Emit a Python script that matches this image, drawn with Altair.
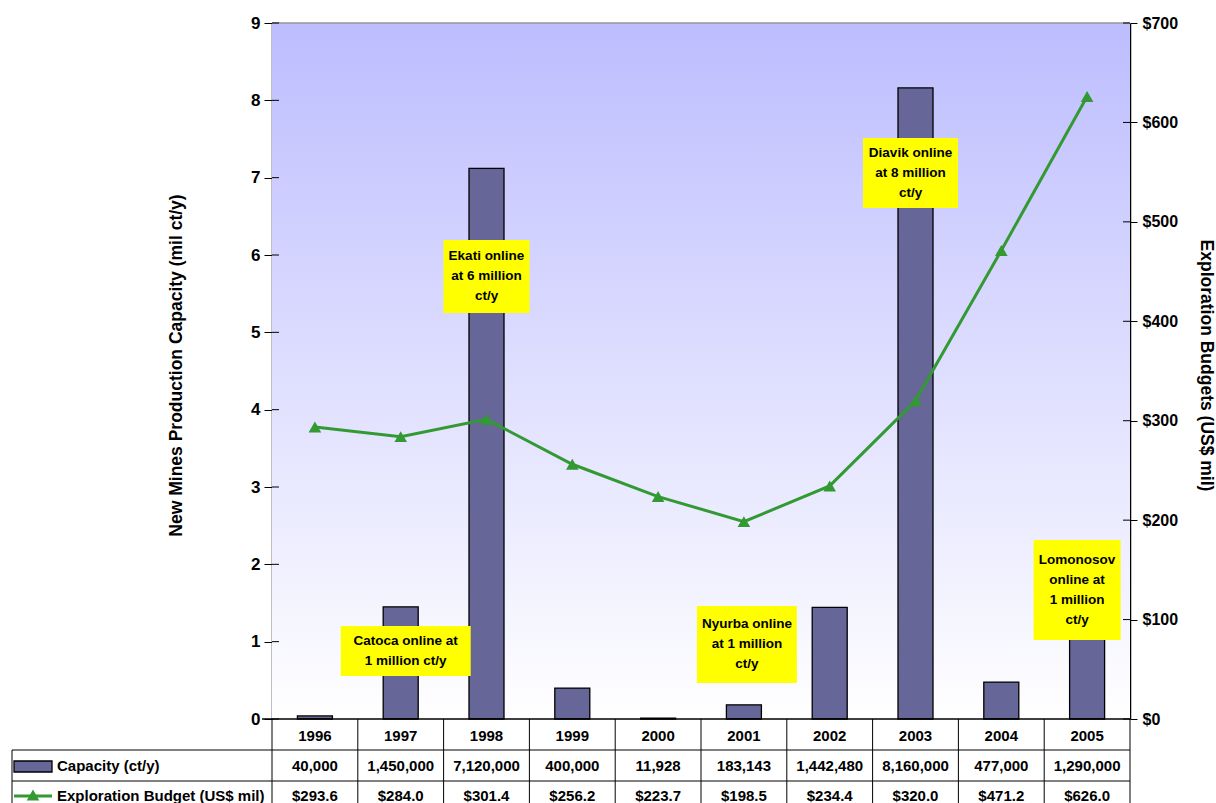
import altair as alt
import pandas as pd

# ---------------- data ----------------
years = ["1996", "1997", "1998", "1999", "2000", "2001", "2002", "2003", "2004", "2005"]
capacity_ct = [40000, 1450000, 7120000, 400000, 11928, 183143, 1442480, 8160000, 477000, 1290000]
budget_musd = [293.6, 284.0, 301.4, 256.2, 223.7, 198.5, 234.4, 320.0, 471.2, 626.0]

left_ticks = [0, 1, 2, 3, 4, 5, 6, 7, 8, 9]
right_ticks = [0, 100, 200, 300, 400, 500, 600, 700]

ann_years = ["1997", "1998", "2003", "2001", "2005"]
ann_text = [
    ["Catoca online at", "1 million ct/y"],
    ["Ekati online", "at 6 million", "ct/y"],
    ["Diavik online", "at 8 million", "ct/y"],
    ["Nyurba online", "at 1 million", "ct/y"],
    ["Lomonosov", "online at", "1 million", "ct/y"],
]
ann_lo = [0.556, 5.25, 6.608, 0.466, 1.022]
ann_hi = [1.203, 6.194, 7.513, 1.461, 2.315]

# ---------------- styles ----------------
W, H = 858, 696
FONT = "Liberation Sans"
BAR = "#666699"
GREEN = "#339933"
ann_width = [130, 86, 95, 100, 87]
ann_dx = [5, 0, -5, 3, -10]
LH = 20

df = pd.DataFrame({
    "year": years,
    "cap_ct": capacity_ct,
    "cap_mil": [v / 1e6 for v in capacity_ct],
    "budget": budget_musd,
})

xenc = alt.X("year:N", sort=years, axis=None,
             scale=alt.Scale(paddingInner=0, paddingOuter=0))
one = pd.DataFrame({"k": [0]})

yl_scale = alt.Scale(domain=[0, 9], nice=False)
yr_scale = alt.Scale(domain=[0, 700], nice=False)

# background gradient
grad = alt.LinearGradient(
    gradient="linear",
    stops=[alt.GradientStop(color="#BDBDFF", offset=0),
           alt.GradientStop(color="#FFFFFF", offset=1)],
    x1=0, x2=0, y1=0, y2=1,
)
bg = alt.Chart(one).mark_rect(fill=grad).encode(
    x=alt.value(0), x2=alt.value(W), y=alt.value(0), y2=alt.value(H)
)
top_line = alt.Chart(one).mark_rule(color="#999999", strokeWidth=1.5).encode(
    x=alt.value(0), x2=alt.value(W), y=alt.value(0)
)

left_axis = alt.Axis(
    orient="left", values=left_ticks, grid=False, tickSize=8, tickColor="black",
    domainColor="black", domainWidth=1.5, labelFontSize=17, labelFont=FONT,
    labelFontWeight="bold", labelColor="black", labelPadding=4,
    title="New Mines Production Capacity (mil ct/y)", titleFont=FONT,
    titleFontSize=17.5, titleFontWeight="bold", titleColor="black",
    titleAngle=-90, titleX=-96, titleY=342, titleAlign="center", titleBaseline="middle",
)
bars = alt.Chart(df).mark_bar(width=35, color=BAR, stroke="black", strokeWidth=1.3).encode(
    x=xenc,
    y=alt.Y("cap_mil:Q", scale=yl_scale, axis=left_axis),
)
left_inner = alt.Chart(pd.DataFrame({"t": left_ticks})).mark_rule(color="black").encode(
    y=alt.Y("t:Q", scale=yl_scale, axis=None), x=alt.value(0), x2=alt.value(7)
)

ann_layers = []
for i in range(len(ann_years)):
    d = pd.DataFrame({"year": [ann_years[i]], "lo": [ann_lo[i]], "hi": [ann_hi[i]],
                      "mid": [(ann_lo[i] + ann_hi[i]) / 2], "txt": [ann_text[i]]})
    box = alt.Chart(d).mark_bar(width=ann_width[i], xOffset=ann_dx[i], color="#FFFF00").encode(
        x=xenc,
        y=alt.Y("lo:Q", scale=yl_scale, axis=None),
        y2="hi:Q",
    )
    txt = alt.Chart(d).mark_text(font=FONT, fontSize=13.5, fontWeight="bold", color="black",
                                 lineHeight=LH, baseline="middle", align="center",
                                 dx=ann_dx[i], dy=-(len(ann_text[i]) - 1) * LH / 2).encode(
        x=xenc,
        y=alt.Y("mid:Q", scale=yl_scale, axis=None),
        text="txt",
    )
    ann_layers += [box, txt]

right_axis = alt.Axis(
    orient="right", values=right_ticks, format="$d", grid=False, tickSize=7,
    tickColor="black", domainColor="black", domainWidth=1.5, labelFontSize=16,
    labelFont=FONT, labelFontWeight="bold", labelColor="black", labelPadding=5,
    title="Exploration Budgets (US$ mil)", titleFont=FONT, titleFontSize=17.5,
    titleFontWeight="bold", titleColor="black", titleAngle=90, titleX=75, titleY=342,
    titleAlign="center", titleBaseline="middle",
)
line = alt.Chart(df).mark_line(color=GREEN, strokeWidth=3).encode(
    x=xenc, y=alt.Y("budget:Q", scale=yr_scale, axis=right_axis)
)
pts = alt.Chart(df).mark_point(shape="triangle-up", filled=True, color=GREEN, size=160,
                               opacity=1).encode(
    x=xenc, y=alt.Y("budget:Q", scale=yr_scale, axis=None)
)
right_inner = alt.Chart(pd.DataFrame({"t": right_ticks})).mark_rule(color="black").encode(
    y=alt.Y("t:Q", scale=yr_scale, axis=None), x=alt.value(W - 7), x2=alt.value(W)
)

# ---------------- data table ----------------
R0, R1, R2, R3 = H, H + 31, H + 62, H + 92
LEFT = -260
vrules = alt.Chart(df).mark_rule(color="black", strokeWidth=1).encode(
    x=alt.X("year:N", sort=years, axis=None, bandPosition=0,
            scale=alt.Scale(paddingInner=0, paddingOuter=0)),
    y=alt.value(R0), y2=alt.value(R3),
)
edge_rules = [
    alt.Chart(one).mark_rule(color="black").encode(x=alt.value(W), y=alt.value(R0), y2=alt.value(R3)),
    alt.Chart(one).mark_rule(color="black").encode(x=alt.value(LEFT), y=alt.value(R1), y2=alt.value(R3)),
    alt.Chart(one).mark_rule(color="black", strokeWidth=1.5).encode(x=alt.value(-10), x2=alt.value(W), y=alt.value(R0)),
    alt.Chart(one).mark_rule(color="black").encode(x=alt.value(LEFT), x2=alt.value(W), y=alt.value(R1)),
    alt.Chart(one).mark_rule(color="black").encode(x=alt.value(LEFT), x2=alt.value(W), y=alt.value(R2)),
    alt.Chart(one).mark_rule(color="black").encode(x=alt.value(LEFT), x2=alt.value(W), y=alt.value(R3)),
]
tfont = dict(font=FONT, fontSize=15, fontWeight="bold", color="black", baseline="middle")
t_year = alt.Chart(df).mark_text(**tfont).encode(x=xenc, y=alt.value((R0 + R1) / 2 + 1), text="year:N")
t_cap = alt.Chart(df).mark_text(**tfont).encode(
    x=xenc, y=alt.value((R1 + R2) / 2), text=alt.Text("cap_ct:Q", format=","))
t_bud = alt.Chart(df).mark_text(**tfont).encode(
    x=xenc, y=alt.value((R2 + R3) / 2), text=alt.Text("budget:Q", format="$.1f"))

leg_cap = alt.Chart(pd.DataFrame({"lab": ["Capacity (ct/y)"]})).mark_text(align="left", **tfont).encode(
    x=alt.value(-215), y=alt.value((R1 + R2) / 2), text="lab:N")
leg_bud = alt.Chart(pd.DataFrame({"lab": ["Exploration Budget (US$ mil)"]})).mark_text(align="left", **tfont).encode(
    x=alt.value(-215), y=alt.value((R2 + R3) / 2), text="lab:N")
sw_bar = alt.Chart(one).mark_rect(color=BAR, stroke="black", strokeWidth=1.3).encode(
    x=alt.value(-258), x2=alt.value(-220), y=alt.value(R1 + 11), y2=alt.value(R1 + 22))
sw_line = alt.Chart(one).mark_rule(color=GREEN, strokeWidth=3).encode(
    x=alt.value(-258), x2=alt.value(-220), y=alt.value((R2 + R3) / 2))
sw_pt = alt.Chart(one).mark_point(shape="triangle-up", filled=True, color=GREEN, size=160, opacity=1).encode(
    x=alt.value(-239), y=alt.value((R2 + R3) / 2 - 1))

chart = alt.layer(
    bg, top_line, bars, left_inner, *ann_layers,
    line, pts, right_inner,
    vrules, *edge_rules, t_year, t_cap, t_bud, leg_cap, leg_bud, sw_bar, sw_line, sw_pt,
).resolve_scale(y="independent").properties(
    width=W, height=H,
    autosize=alt.AutoSizeParams(type="none"),
    padding={"left": 272, "top": 23, "right": 86, "bottom": 84},
    background="white",
).configure_view(stroke=None)

chart.save("out.html", embed_options={"renderer": "svg", "actions": False})
